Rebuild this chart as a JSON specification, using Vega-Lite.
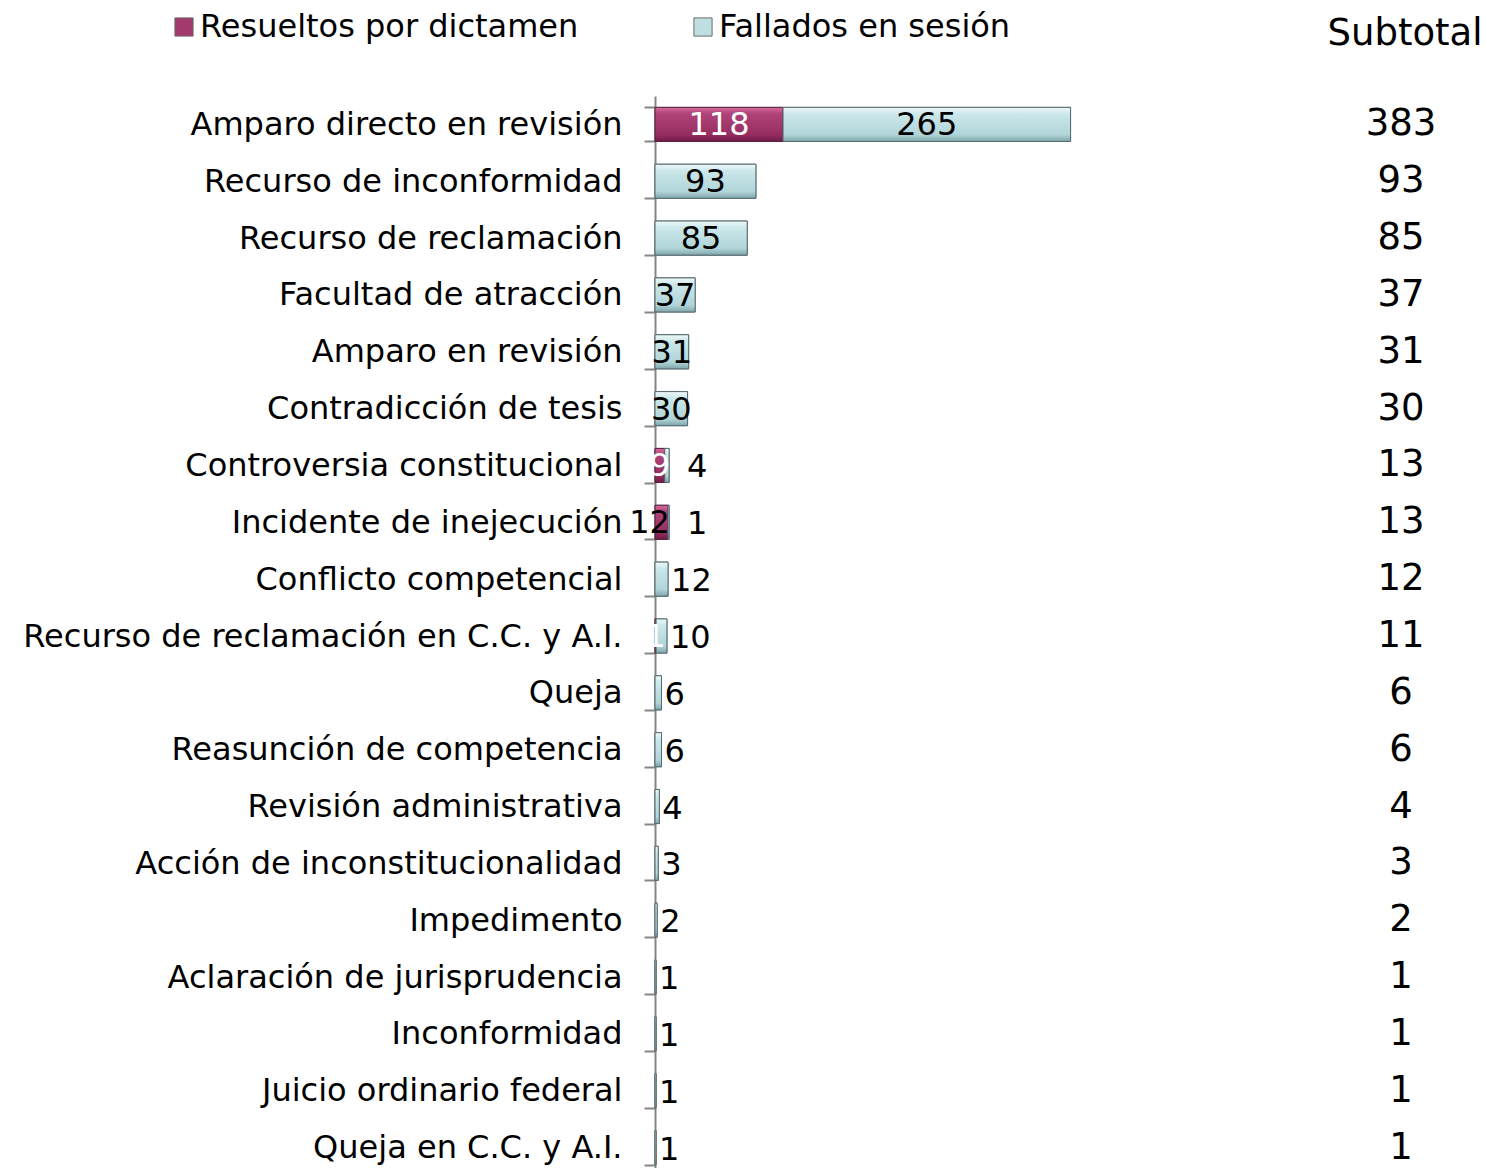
{
  "$schema": "https://vega.github.io/schema/vega-lite/v6.json",
  "padding": {"left": 22, "top": 11, "right": 0, "bottom": 0},
  "config": {"view": {"stroke": null}, "font": "DejaVu Sans"},
  "datasets": {
    "casos": [
      {"tipo": "Amparo directo en revisión", "serie": "Resueltos por dictamen", "valor": 118},
      {"tipo": "Amparo directo en revisión", "serie": "Fallados en sesión", "valor": 265},
      {"tipo": "Recurso de inconformidad", "serie": "Fallados en sesión", "valor": 93},
      {"tipo": "Recurso de reclamación", "serie": "Fallados en sesión", "valor": 85},
      {"tipo": "Facultad de atracción", "serie": "Fallados en sesión", "valor": 37},
      {"tipo": "Amparo en revisión", "serie": "Fallados en sesión", "valor": 31},
      {"tipo": "Contradicción de tesis", "serie": "Fallados en sesión", "valor": 30},
      {"tipo": "Controversia constitucional", "serie": "Resueltos por dictamen", "valor": 9},
      {"tipo": "Controversia constitucional", "serie": "Fallados en sesión", "valor": 4},
      {"tipo": "Incidente de inejecución", "serie": "Resueltos por dictamen", "valor": 12},
      {"tipo": "Incidente de inejecución", "serie": "Fallados en sesión", "valor": 1},
      {"tipo": "Conflicto competencial", "serie": "Fallados en sesión", "valor": 12},
      {"tipo": "Recurso de reclamación en C.C. y A.I.", "serie": "Resueltos por dictamen", "valor": 1},
      {"tipo": "Recurso de reclamación en C.C. y A.I.", "serie": "Fallados en sesión", "valor": 10},
      {"tipo": "Queja", "serie": "Fallados en sesión", "valor": 6},
      {"tipo": "Reasunción de competencia", "serie": "Fallados en sesión", "valor": 6},
      {"tipo": "Revisión administrativa", "serie": "Fallados en sesión", "valor": 4},
      {"tipo": "Acción de inconstitucionalidad", "serie": "Fallados en sesión", "valor": 3},
      {"tipo": "Impedimento", "serie": "Fallados en sesión", "valor": 2},
      {"tipo": "Aclaración de jurisprudencia", "serie": "Fallados en sesión", "valor": 1},
      {"tipo": "Inconformidad", "serie": "Fallados en sesión", "valor": 1},
      {"tipo": "Juicio ordinario federal", "serie": "Fallados en sesión", "valor": 1},
      {"tipo": "Queja en C.C. y A.I.", "serie": "Fallados en sesión", "valor": 1}
    ]
  },
  "data": {"name": "casos"},
  "spacing": 238,
  "hconcat": [
    {
      "width": 434,
      "height": 1080,
      "transform": [
        {"stack": "valor", "groupby": ["tipo"], "sort": [{"field": "serie", "order": "descending"}], "as": ["v0", "v1"]},
        {"calculate": "(datum.v0 + datum.v1) / 2", "as": "vmid"}
      ],
      "encoding": {
        "y": {
          "field": "tipo", "type": "nominal", "sort": null,
          "scale": {"paddingInner": 0.4, "paddingOuter": 0.2},
          "axis": {
            "title": null, "tickBand": "extent", "labelFontSize": 32, "labelColor": "black",
            "labelPadding": 22, "tickSize": 11, "tickColor": "#858585", "tickWidth": 2,
            "domainColor": "#858585", "domainWidth": 2, "labelLimit": 1000,
            "labelExpr": "datum.value == 'Controversia constitucional' || datum.value == 'Acción de inconstitucionalidad' ? datum.value + '\u00a0' : datum.value"
          }
        },
        "x": {"field": "v0", "type": "quantitative", "scale": {"domain": [0, 400]}, "axis": null}
      },
      "layer": [
        {
          "mark": {"type": "bar", "stroke": "#566b70", "strokeWidth": 1},
          "encoding": {
            "x2": {"field": "v1"},
            "color": {
              "field": "serie", "type": "nominal",
              "scale": {
                "domain": ["Resueltos por dictamen", "Fallados en sesión"],
                "range": ["#a23a6e", "#bfe0e3"]
              },
              "legend": {
                "orient": "none", "legendX": -487, "legendY": -85, "direction": "horizontal", "columns": 2,
                "columnPadding": 108, "labelFontSize": 32, "labelColor": "black", "labelLimit": 1000,
                "symbolType": "square", "symbolSize": 330, "symbolStrokeWidth": 1, "symbolStrokeColor": "#6a6a6a",
                "title": null, "labelOffset": 0
              }
            }
          }
        },
        {
          "transform": [{"filter": "datum.serie == 'Resueltos por dictamen'"}],
          "mark": {"type": "bar", "stroke": "#5b2140", "strokeWidth": 1,
            "color": {"gradient": "linear", "x1": 0, "y1": 0, "x2": 0, "y2": 1, "stops": [{"offset": 0, "color": "#d86c9b"}, {"offset": 0.18, "color": "#b0447a"}, {"offset": 0.8, "color": "#962d60"}, {"offset": 1, "color": "#6e1b44"}]}},
          "encoding": {"x2": {"field": "v1"}}
        },
        {
          "transform": [{"filter": "datum.serie == 'Fallados en sesión'"}],
          "mark": {"type": "bar", "stroke": "#566b70", "strokeWidth": 1,
            "color": {"gradient": "linear", "x1": 0, "y1": 0, "x2": 0, "y2": 1, "stops": [{"offset": 0, "color": "#eef8f9"}, {"offset": 0.2, "color": "#cbe7ea"}, {"offset": 0.8, "color": "#b0d5d9"}, {"offset": 1, "color": "#7fa5aa"}]}},
          "encoding": {"x2": {"field": "v1"}}
        },
        {
          "transform": [{"filter": "datum.serie == 'Resueltos por dictamen' && (datum.valor < 10 || datum.valor >= 100)"}],
          "mark": {"type": "text", "fontSize": 32, "align": "center", "baseline": "middle", "dy": 1, "color": "white"},
          "encoding": {
            "x": {"field": "vmid", "type": "quantitative"},
            "text": {"field": "valor", "type": "quantitative"}
          }
        },
        {
          "transform": [{"filter": "datum.serie == 'Resueltos por dictamen' && datum.valor >= 10 && datum.valor < 100"}],
          "mark": {"type": "text", "fontSize": 32, "align": "center", "baseline": "middle", "dx": -12, "dy": 1, "color": "black"},
          "encoding": {
            "x": {"field": "vmid", "type": "quantitative"},
            "text": {"field": "valor", "type": "quantitative"}
          }
        },
        {
          "transform": [{"filter": "datum.serie == 'Fallados en sesión' && datum.valor >= 30"}],
          "mark": {"type": "text", "fontSize": 32, "align": "center", "baseline": "middle", "dy": 1, "color": "black"},
          "encoding": {
            "x": {"field": "vmid", "type": "quantitative"},
            "text": {"field": "valor", "type": "quantitative"}
          }
        },
        {
          "transform": [{"filter": "datum.serie == 'Fallados en sesión' && datum.valor < 30 && !(datum.v0 > 0 && datum.valor < 5)"}],
          "mark": {"type": "text", "fontSize": 32, "align": "left", "baseline": "middle", "dx": 3, "dy": 2, "color": "black"},
          "encoding": {
            "x": {"field": "v1", "type": "quantitative"},
            "text": {"field": "valor", "type": "quantitative"}
          }
        },
        {
          "transform": [{"filter": "datum.serie == 'Fallados en sesión' && datum.v0 > 0 && datum.valor < 5"}],
          "mark": {"type": "text", "fontSize": 32, "align": "left", "baseline": "middle", "dx": 18, "dy": 2, "color": "black"},
          "encoding": {
            "x": {"field": "v1", "type": "quantitative"},
            "text": {"field": "valor", "type": "quantitative"}
          }
        }
      ]
    },
    {
      "width": 120,
      "height": 1080,
      "title": {"text": "Subtotal", "fontSize": 37, "fontWeight": "normal", "color": "black", "anchor": "middle", "baseline": "alphabetic", "offset": 14, "dx": 4},
      "mark": {"type": "text", "fontSize": 37, "color": "black", "baseline": "middle"},
      "encoding": {
        "y": {"field": "tipo", "type": "nominal", "sort": null, "axis": null, "scale": {"paddingInner": 0.4, "paddingOuter": 0.2}},
        "text": {"aggregate": "sum", "field": "valor", "type": "quantitative"}
      }
    }
  ]
}
